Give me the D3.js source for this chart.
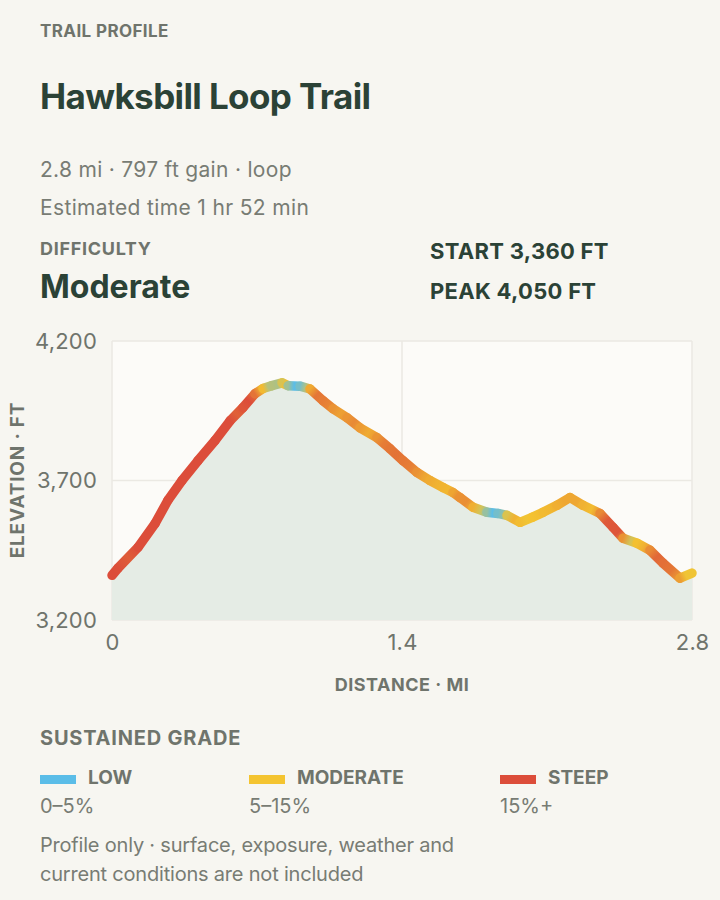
<!DOCTYPE html>
<html><head><meta charset="utf-8">
<script src="https://cdn.jsdelivr.net/npm/d3@7"></script>
<style>
html,body{margin:0;padding:0;background:#f7f6f1;}
svg{display:block;font-family:Inter,"Noto Sans",sans-serif;}
</style></head><body>
<svg id="chart" width="720" height="900"></svg>
<script>
// ---- data ----
const distanceMi = [0, 0.029, 0.126, 0.208, 0.270, 0.338, 0.415, 0.497, 0.570, 0.632, 0.690, 0.729, 0.772, 0.821, 0.850, 0.908, 0.956, 1.019, 1.067, 1.135, 1.197, 1.279, 1.342, 1.405, 1.472, 1.535, 1.598, 1.646, 1.680, 1.743, 1.810, 1.863, 1.907, 1.970, 2.028, 2.081, 2.148, 2.211, 2.274, 2.356, 2.419, 2.467, 2.535, 2.597, 2.660, 2.742, 2.800];
const elevationFt = [3360, 3386, 3461, 3546, 3629, 3700, 3771, 3843, 3914, 3961, 4011, 4030, 4040, 4050, 4040, 4038, 4028, 3986, 3957, 3925, 3889, 3854, 3814, 3771, 3729, 3700, 3675, 3657, 3639, 3604, 3586, 3582, 3575, 3550, 3568, 3586, 3611, 3639, 3611, 3582, 3532, 3493, 3475, 3450, 3404, 3350, 3368];
const xTicks = [0, 1.4, 2.8];
const yTicks = [3200, 3700, 4200];
const gradeLabels = ["LOW", "MODERATE", "STEEP"];
const gradeRanges = ["0–5%", "5–15%", "15%+"];
const gradeColors = ["#5bbde8", "#f4c430", "#dc4d3a"];
const gradeStops = [1.5, 6, 16];

const svg = d3.select("#chart");
const dark = "#2b4236", grey = "#6f746c", soft = "#787c74";

// ---- header ----
const T = (x, y, txt, size, weight, fill, anchor) =>
  svg.append("text").attr("x", x).attr("y", y).text(txt)
    .attr("font-size", size).attr("font-weight", weight).attr("fill", fill)
    .attr("text-anchor", anchor || "start");

T(40, 37, "TRAIL PROFILE", 17, 700, grey).attr("letter-spacing", "0.4");
T(40, 109, "Hawksbill Loop Trail", 35, 700, dark).attr("letter-spacing", "-0.6");
T(40, 177, "2.8 mi · 797 ft gain · loop", 21, 400, soft).attr("letter-spacing", "0.3");
T(40, 215, "Estimated time 1 hr 52 min", 21, 400, soft).attr("letter-spacing", "0.35");
T(40, 255, "DIFFICULTY", 18, 700, grey).attr("letter-spacing", "0.7");
T(40, 298, "Moderate", 32, 700, dark).attr("letter-spacing", "0");
T(430, 259, "START 3,360 FT", 22, 700, dark).attr("letter-spacing", "0.3");
T(430, 299, "PEAK 4,050 FT", 22, 700, dark).attr("letter-spacing", "0.3");

// ---- chart ----
const m = {left: 112, right: 692, top: 341, bottom: 620};
const x = d3.scaleLinear().domain([0, 2.8]).range([m.left, m.right]);
const y = d3.scaleLinear().domain([3200, 4200]).range([m.bottom, m.top]);

svg.append("rect").attr("x", m.left).attr("y", m.top)
  .attr("width", m.right - m.left).attr("height", m.bottom - m.top).attr("fill", "#fcfbf8");

const grid = svg.append("g");
grid.selectAll(".gy").data(yTicks).join("line")
  .attr("x1", m.left).attr("x2", m.right).attr("y1", d => y(d)).attr("y2", d => y(d))
  .attr("stroke", "#ebe9e3").attr("stroke-width", 1.5);
grid.selectAll(".gx").data(xTicks).join("line")
  .attr("y1", m.top).attr("y2", m.bottom).attr("x1", d => x(d)).attr("x2", d => x(d))
  .attr("stroke", "#ebe9e3").attr("stroke-width", 1.5);

const pts = distanceMi.map((d, i) => ({d, e: elevationFt[i]}));

svg.append("path").datum(pts)
  .attr("d", d3.area().x(p => x(p.d)).y0(m.bottom).y1(p => y(p.e)))
  .attr("fill", "#e5ece5");

const color = d3.scaleLinear().domain(gradeStops).range(gradeColors).clamp(true);
const segGrade = pts.slice(1).map((p, i) => Math.abs(p.e - pts[i].e) / ((p.d - pts[i].d) * 5280) * 100);
const vGrade = pts.map((p, i) => {
  const a = segGrade[i - 1], b = segGrade[i];
  return a == null ? b : b == null ? a : (a + b) / 2;
});

const defs = svg.append("defs");
const segs = pts.slice(1).map((p, i) => ({a: pts[i], b: p, i}));
segs.forEach(s => {
  const g = defs.append("linearGradient").attr("id", "g" + s.i)
    .attr("gradientUnits", "userSpaceOnUse")
    .attr("x1", x(s.a.d)).attr("y1", y(s.a.e)).attr("x2", x(s.b.d)).attr("y2", y(s.b.e));
  g.append("stop").attr("offset", "0%").attr("stop-color", color(vGrade[s.i]));
  g.append("stop").attr("offset", "50%").attr("stop-color", color(segGrade[s.i]));
  g.append("stop").attr("offset", "100%").attr("stop-color", color(vGrade[s.i + 1]));
});
svg.append("g").selectAll("line").data(segs).join("line")
  .attr("x1", s => x(s.a.d)).attr("y1", s => y(s.a.e))
  .attr("x2", s => x(s.b.d)).attr("y2", s => y(s.b.e))
  .attr("stroke", s => `url(#g${s.i})`).attr("stroke-width", 9.5)
  .attr("stroke-linecap", "round");

// axes
const yAxis = svg.append("g").attr("transform", `translate(${m.left},0)`)
  .call(d3.axisLeft(y).tickValues(yTicks).tickFormat(d3.format(",")).tickSize(0).tickPadding(15));
const xAxis = svg.append("g").attr("transform", `translate(0,${m.bottom})`)
  .call(d3.axisBottom(x).tickValues(xTicks).tickFormat(d => d === 0 ? "0" : d3.format(".1f")(d)).tickSize(0).tickPadding(14));
[yAxis, xAxis].forEach(a => {
  a.select(".domain").remove();
  a.selectAll("text").attr("font-size", 22).attr("fill", grey).attr("font-family", "Inter,'Noto Sans',sans-serif").attr("letter-spacing", "0.2");
});

svg.append("text").attr("transform", "translate(24,480) rotate(-90)")
  .attr("text-anchor", "middle").text("ELEVATION · FT")
  .attr("font-size", 19).attr("font-weight", 700).attr("fill", grey).attr("letter-spacing", "0.8");
T(402, 691, "DISTANCE · MI", 18, 700, grey, "middle").attr("letter-spacing", "0.5");

// ---- legend ----
T(40, 745, "SUSTAINED GRADE", 20, 700, grey).attr("letter-spacing", "0.8");
const legX = [40, 249, 500];
const leg = svg.append("g").selectAll("g").data(gradeLabels).join("g")
  .attr("transform", (d, i) => `translate(${legX[i]},0)`);
leg.append("rect").attr("x", 0).attr("y", 775).attr("width", 36).attr("height", 9)
  .attr("fill", (d, i) => gradeColors[i]);
leg.append("text").attr("x", 48).attr("y", 784).text(d => d)
  .attr("font-size", 19).attr("font-weight", 700).attr("fill", grey).attr("letter-spacing", "0");
leg.append("text").attr("x", 0).attr("y", 813).text((d, i) => gradeRanges[i])
  .attr("font-size", 20).attr("fill", soft).attr("letter-spacing", "0");

T(40, 852, "Profile only · surface, exposure, weather and", 20, 400, soft).attr("letter-spacing", "-0.2");
T(40, 881, "current conditions are not included", 20, 400, soft).attr("letter-spacing", "-0.2");
</script>
</body></html>
